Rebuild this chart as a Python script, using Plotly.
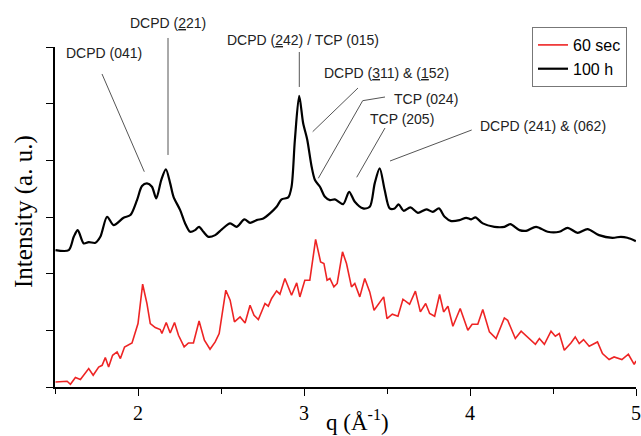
import plotly.graph_objects as go

# ---- data ----
q_100h = [1.503, 1.583, 1.613, 1.637, 1.673, 1.703, 1.743, 1.773, 1.814, 1.853,
          1.913, 1.954, 1.994, 2.024, 2.054, 2.084, 2.110, 2.140, 2.168, 2.194,
          2.214, 2.254, 2.284, 2.314, 2.344, 2.368, 2.394, 2.424, 2.465, 2.505,
          2.555, 2.595, 2.641, 2.675, 2.715, 2.755, 2.795, 2.835, 2.865, 2.905,
          2.925, 2.945, 2.971, 2.995, 3.019, 3.046, 3.066, 3.096, 3.126, 3.156,
          3.186, 3.236, 3.272, 3.306, 3.356, 3.396, 3.426, 3.456, 3.486, 3.516,
          3.546, 3.570, 3.600, 3.641, 3.686, 3.737, 3.776, 3.813, 3.847, 3.887,
          3.937, 3.977, 4.007, 4.033, 4.077, 4.147, 4.207, 4.243, 4.298, 4.338,
          4.398, 4.468, 4.538, 4.588, 4.648, 4.708, 4.777, 4.858, 4.909, 4.948,
          4.999]
i_100h = [2.415, 2.415, 2.650, 2.769, 2.534, 2.557, 2.544, 2.650, 3.004, 2.857,
          2.986, 3.034, 3.299, 3.546, 3.594, 3.534, 3.329, 3.652, 3.841, 3.594,
          3.357, 3.122, 2.887, 2.739, 2.769, 2.827, 2.739, 2.650, 2.680, 2.781,
          2.887, 2.827, 2.958, 2.898, 2.945, 2.975, 3.064, 3.180, 3.311, 3.346,
          3.534, 4.359, 5.136, 4.654, 4.371, 3.887, 3.652, 3.534, 3.357, 3.299,
          3.311, 3.228, 3.445, 3.269, 3.152, 3.180, 3.594, 3.859, 3.475, 3.152,
          3.152, 3.223, 3.110, 3.170, 3.074, 3.134, 3.092, 3.152, 3.004, 2.928,
          2.945, 2.986, 2.958, 2.993, 2.887, 2.827, 2.827, 2.875, 2.769, 2.756,
          2.827, 2.739, 2.739, 2.809, 2.721, 2.786, 2.680, 2.633, 2.650, 2.633,
          2.574]

q_60s = [1.503, 1.543, 1.573, 1.593, 1.623, 1.653, 1.703, 1.730, 1.763, 1.784,
         1.803, 1.823, 1.847, 1.874, 1.894, 1.919, 1.964, 2.000, 2.028, 2.054,
         2.074, 2.104, 2.134, 2.144, 2.170, 2.194, 2.220, 2.244, 2.278, 2.304,
         2.334, 2.368, 2.400, 2.434, 2.465, 2.489, 2.529, 2.555, 2.581, 2.615,
         2.645, 2.675, 2.699, 2.725, 2.765, 2.785, 2.805, 2.835, 2.855, 2.885,
         2.905, 2.925, 2.956, 2.975, 3.005, 3.035, 3.070, 3.100, 3.120, 3.139,
         3.156, 3.180, 3.200, 3.232, 3.256, 3.286, 3.306, 3.336, 3.366, 3.396,
         3.422, 3.456, 3.480, 3.500, 3.532, 3.566, 3.596, 3.636, 3.671, 3.701,
         3.733, 3.757, 3.787, 3.817, 3.841, 3.867, 3.897, 3.941, 3.987, 4.013,
         4.047, 4.077, 4.117, 4.157, 4.207, 4.227, 4.273, 4.308, 4.347, 4.394,
         4.418, 4.448, 4.488, 4.514, 4.538, 4.568, 4.608, 4.634, 4.658, 4.684,
         4.718, 4.768, 4.798, 4.838, 4.868, 4.915, 4.954, 4.989, 5.000]
i_60s = [0.088, 0.088, 0.101, 0.048, 0.166, 0.131, 0.325, 0.207, 0.353, 0.383,
         0.519, 0.353, 0.560, 0.618, 0.502, 0.707, 0.777, 1.120, 1.814, 1.473,
         1.120, 1.049, 1.014, 0.943, 1.138, 0.954, 1.138, 0.913, 0.707, 0.777,
         0.777, 1.166, 0.825, 0.666, 0.795, 0.943, 1.708, 1.532, 1.148, 1.237,
         1.131, 1.443, 1.267, 1.191, 1.473, 1.426, 1.562, 1.696, 1.638, 1.915,
         1.767, 1.620, 1.837, 1.590, 1.885, 1.885, 2.604, 2.208, 2.180, 1.885,
         1.915, 1.767, 1.827, 2.385, 2.180, 1.767, 1.827, 1.590, 1.915, 1.678,
         1.355, 1.502, 1.590, 1.208, 1.284, 1.249, 1.549, 1.461, 1.691, 1.325,
         1.473, 1.297, 1.249, 1.633, 1.325, 1.426, 1.072, 1.385, 1.002, 1.108,
         1.108, 1.367, 0.972, 0.855, 1.219, 1.178, 0.855, 0.984, 0.883, 0.754,
         0.855, 0.754, 0.984, 0.896, 0.943, 0.648, 0.777, 0.883, 0.767, 0.837,
         0.719, 0.795, 0.590, 0.484, 0.530, 0.484, 0.578, 0.401, 0.459]

series_names = ["60 sec", "100 h"]
x_tickvals = [2, 3, 4, 5]
x_ticktext = ["2", "3", "4", "5"]
y_tickvals = [0, 1, 2, 3, 4, 5, 6]
x_title = "q (Å<sup>-1</sup>)"
y_title = "Intensity (a. u.)"

# peak labels: text, text position (paper), leader line points (paper)
peak_labels = [
    ("DCPD (041)", (0.0843, 0.9824), [(0.0809, 0.9206), (0.1537, 0.6332)]),
    ("DCPD (<u>2</u>21)", (0.1945, 1.0706), [(0.1945, 1.0265), (0.1945, 0.6824)]),
    ("DCPD (<u>2</u>42) / TCP (015)", (0.4269, 1.0206), [(0.4205, 0.9853), (0.4205, 0.8824)]),
    ("DCPD (<u>3</u>11) &amp; (<u>1</u>52)", (0.5714, 0.9235), [(0.5215, 0.8794), (0.4435, 0.7509)]),
    ("TCP (024)", (0.6377, 0.8471), [(0.5680, 0.8529), (0.5296, 0.8421), (0.4532, 0.6138)]),
    ("TCP (205)", (0.5972, 0.7882), [(0.5680, 0.7618), (0.5193, 0.6168)]),
    ("DCPD (241) &amp; (062)", (0.8391, 0.7676), [(0.7172, 0.7559), (0.5766, 0.6647)]),
]

fig = go.Figure()
fig.add_trace(go.Scatter(x=q_60s, y=i_60s, mode="lines", name=series_names[0],
                         line=dict(color="#ee2424", width=1.6)))
fig.add_trace(go.Scatter(x=q_100h, y=i_100h, mode="lines", name=series_names[1],
                         line=dict(color="black", width=2.2, shape="spline", smoothing=0.8)))

serif = "Liberation Serif, Times New Roman, serif"
sans = "Liberation Sans, Arial, sans-serif"

annotations = []
shapes = []
for text, (tx, ty), pts in peak_labels:
    annotations.append(dict(text=text, x=tx, y=ty, xref="paper", yref="paper",
                            showarrow=False, xanchor="center", yanchor="middle",
                            font=dict(family=sans, size=14, color="#222")))
    path = "M " + " L ".join(f"{px},{py}" for px, py in pts)
    shapes.append(dict(type="path", path=path, xref="paper", yref="paper",
                       line=dict(color="#555", width=1)))

annotations.append(dict(text=x_title, x=0.52, y=-0.098, xref="paper", yref="paper",
                        showarrow=False, xanchor="center", yanchor="middle",
                        font=dict(family=serif, size=23, color="black")))
annotations.append(dict(text=y_title, x=-0.0534, y=0.5176, xref="paper", yref="paper",
                        showarrow=False, xanchor="center", yanchor="middle", textangle=-90,
                        font=dict(family=serif, size=25, color="black")))

fig.update_layout(
    width=641, height=436, autosize=False,
    margin=dict(l=55, r=5, t=47, b=49, autoexpand=False),
    paper_bgcolor="white", plot_bgcolor="white",
    showlegend=True,
    legend=dict(x=0.9845, y=1.0588, xanchor="right", yanchor="top",
                bgcolor="white", bordercolor="#777", borderwidth=1,
                font=dict(family=sans, size=16, color="black"),
                tracegroupgap=0),
    annotations=annotations,
    shapes=shapes,
    xaxis=dict(range=[1.5, 5], tickvals=x_tickvals, ticktext=x_ticktext, automargin=False,
               ticks="outside", ticklen=7, tickwidth=1.2, tickcolor="black",
               showline=True, linecolor="black", linewidth=1.5, showgrid=False, zeroline=False,
               minor=dict(dtick=0.5, tick0=1.5, ticks="outside", ticklen=5,
                          tickwidth=1.2, tickcolor="black", showgrid=False),
               tickfont=dict(family=serif, size=20, color="black")),
    yaxis=dict(range=[0, 6], tickvals=y_tickvals, showticklabels=False, automargin=False,
               ticks="outside", ticklen=7, tickwidth=1.2, tickcolor="black",
               showline=True, linecolor="black", linewidth=1.5, showgrid=False, zeroline=False),
)

fig.write_html("out.html", config={"displayModeBar": False},
               post_script="document.body.style.margin='0';document.body.style.overflow='hidden';")
